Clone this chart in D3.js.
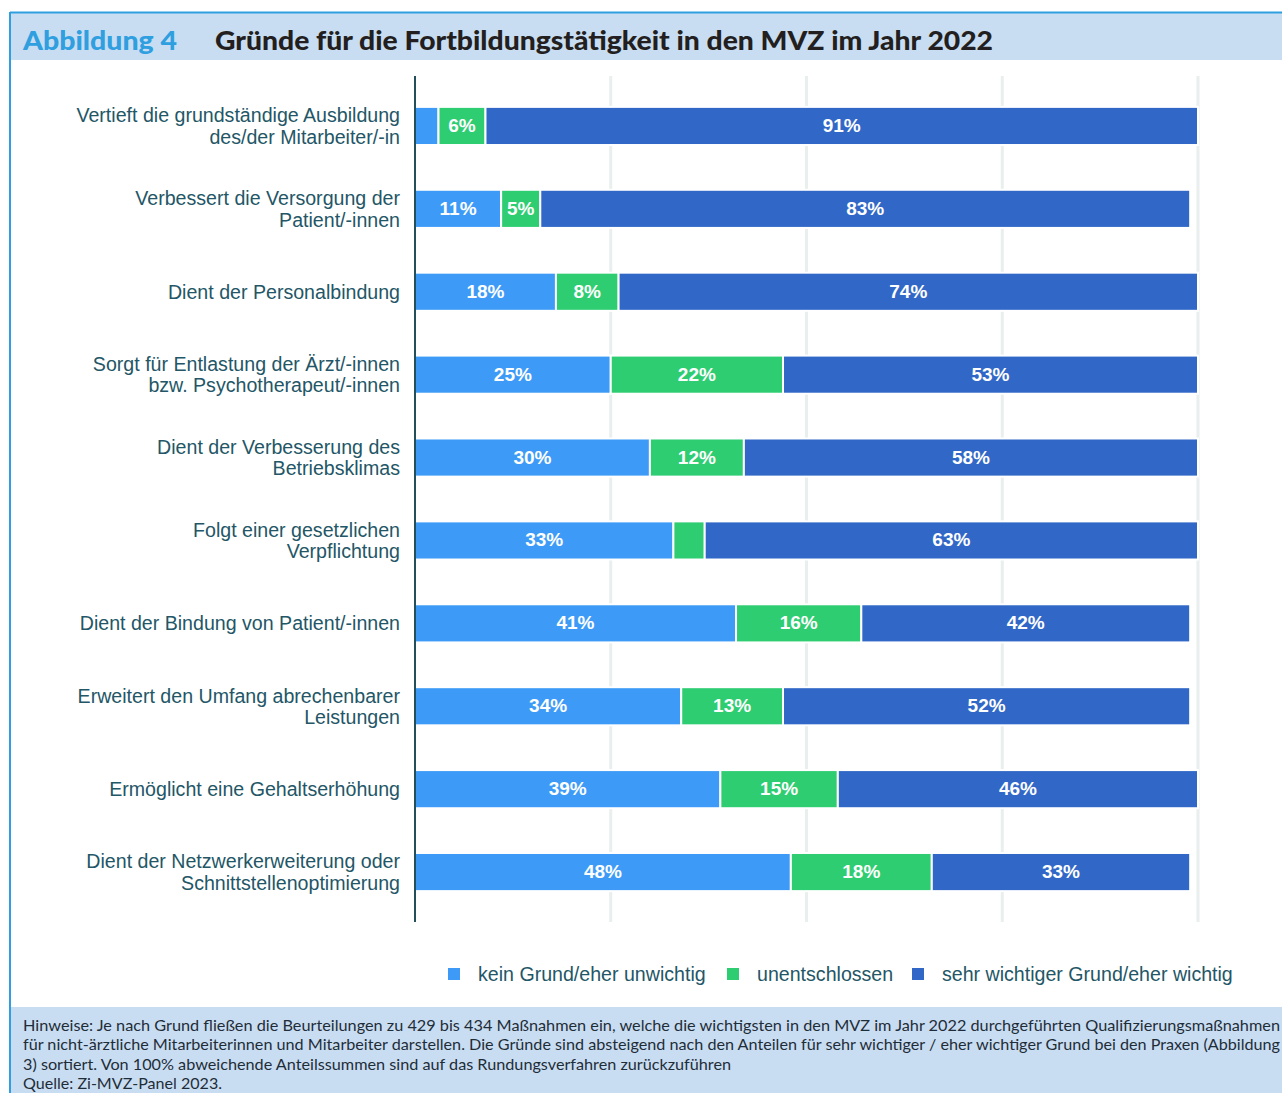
<!DOCTYPE html>
<html><head><meta charset="utf-8">
<script src="https://cdn.jsdelivr.net/npm/d3@7"></script>
<style>html,body{margin:0;padding:0;background:#fff;}svg{display:block;}</style>
</head><body>
<svg id="c" width="1282" height="1093"></svg>
<script>
const categories = [
  "Vertieft die grundständige Ausbildung\ndes/der Mitarbeiter/-in",
  "Verbessert die Versorgung der\nPatient/-innen",
  "Dient der Personalbindung",
  "Sorgt für Entlastung der Ärzt/-innen\nbzw. Psychotherapeut/-innen",
  "Dient der Verbesserung des\nBetriebsklimas",
  "Folgt einer gesetzlichen\nVerpflichtung",
  "Dient der Bindung von Patient/-innen",
  "Erweitert den Umfang abrechenbarer\nLeistungen",
  "Ermöglicht eine Gehaltserhöhung",
  "Dient der Netzwerkerweiterung oder\nSchnittstellenoptimierung"
];
const keinGrund = [3, 11, 18, 25, 30, 33, 41, 34, 39, 48];
const unentschlossen = [6, 5, 8, 22, 12, 4, 16, 13, 15, 18];
const sehrWichtig = [91, 83, 74, 53, 58, 63, 42, 52, 46, 33];
const seriesNames = ["kein Grund/eher unwichtig", "unentschlossen", "sehr wichtiger Grund/eher wichtig"];
const xTicks = [0, 25, 50, 75, 100];
const titleLabel = "Abbildung 4";
const titleText = "Gründe für die Fortbildungstätigkeit in den MVZ im Jahr 2022";
const noteLines = [
  "Hinweise: Je nach Grund fließen die Beurteilungen zu 429 bis 434 Maßnahmen ein, welche die wichtigsten in den MVZ im Jahr 2022 durchgeführten Qualifizierungsmaßnahmen",
  "für nicht-ärztliche Mitarbeiterinnen und Mitarbeiter darstellen. Die Gründe sind absteigend nach den Anteilen für sehr wichtiger / eher wichtiger Grund bei den Praxen (Abbildung",
  "3) sortiert. Von 100% abweichende Anteilssummen sind auf das Rundungsverfahren zurückzuführen",
  "Quelle: Zi-MVZ-Panel 2023."
];

const colors = ["#3d9bf7", "#2ecd72", "#3168c7"];
const svg = d3.select("#c");

// frame
svg.append("rect").attr("x", 10).attr("y", 13).attr("width", 1272).attr("height", 47).attr("fill", "#c9ddf2");
svg.append("rect").attr("x", 10).attr("y", 1007).attr("width", 1272).attr("height", 86).attr("fill", "#c9ddf2");
svg.append("line").attr("x1", 10).attr("x2", 1282).attr("y1", 12.5).attr("y2", 12.5).attr("stroke", "#2f9fe0").attr("stroke-width", 2);
svg.append("line").attr("x1", 10).attr("x2", 10).attr("y1", 12).attr("y2", 1093).attr("stroke", "#2f9fe0").attr("stroke-width", 2);

svg.append("text").attr("x", 23).attr("y", 50).attr("font-family", "Lato, sans-serif").attr("font-weight", 900)
  .attr("font-size", 27).attr("fill", "#2f9fe0").attr("textLength", 154).attr("lengthAdjust", "spacingAndGlyphs").text(titleLabel);
svg.append("text").attr("x", 215).attr("y", 50).attr("font-family", "Lato, sans-serif").attr("font-weight", 900)
  .attr("font-size", 27).attr("fill", "#231f20").attr("textLength", 778).attr("lengthAdjust", "spacingAndGlyphs").text(titleText);

const x = d3.scaleLinear().domain([0, 100]).range([415, 1198]);
const y = d3.scaleBand().domain(d3.range(categories.length)).range([84.5, 913.5]).paddingInner(0.54).paddingOuter(0.27);

// grid
svg.append("g").selectAll("line").data(xTicks.slice(1)).join("line")
  .attr("x1", d => x(d)).attr("x2", d => x(d)).attr("y1", 76).attr("y2", 922)
  .attr("stroke", "#e9eeee").attr("stroke-width", 3);

const rows = categories.map((c, i) => {
  const vals = [keinGrund[i], unentschlossen[i], sehrWichtig[i]];
  let acc = 0;
  return vals.map((v, k) => { const s = {i, k, v, x0: acc, x1: acc + v}; acc += v; return s; });
}).flat();

svg.append("g").selectAll("rect").data(rows).join("rect")
  .attr("x", d => x(d.x0)).attr("width", d => x(d.x1) - x(d.x0))
  .attr("y", d => y(d.i)).attr("height", y.bandwidth())
  .attr("fill", d => colors[d.k]).attr("stroke", "#fff").attr("stroke-width", 2);

svg.append("g").selectAll("text").data(rows.filter(d => d.v >= 5)).join("text")
  .attr("x", d => (x(d.x0) + x(d.x1)) / 2).attr("y", d => y(d.i) + y.bandwidth() / 2 + 6)
  .attr("text-anchor", "middle").attr("font-family", "Liberation Sans, Arial, sans-serif")
  .attr("font-weight", 700).attr("font-size", 19).attr("fill", "#fff").text(d => d.v + "%");

// axis line
svg.append("line").attr("x1", 415).attr("x2", 415).attr("y1", 76).attr("y2", 922)
  .attr("stroke", "#234e5c").attr("stroke-width", 2);

// y labels
const yl = svg.append("g").attr("font-family", "Liberation Sans, Arial, sans-serif").attr("font-size", 19.6).attr("fill", "#235666");
categories.forEach((c, i) => {
  const lines = c.split("\n");
  const cy = y(i) + y.bandwidth() / 2;
  const t = yl.append("text").attr("text-anchor", "end");
  lines.forEach((ln, j) => {
    t.append("tspan").attr("x", 400).attr("y", cy + 7 + (j - (lines.length - 1) / 2) * 21.5).text(ln);
  });
});

// legend
const legX = [448, 727, 912];
const lg = svg.append("g").attr("font-family", "Liberation Sans, Arial, sans-serif").attr("font-size", 19.6).attr("fill", "#235666");
seriesNames.forEach((n, k) => {
  lg.append("rect").attr("x", legX[k]).attr("y", 968).attr("width", 12).attr("height", 12).attr("fill", colors[k]);
  lg.append("text").attr("x", legX[k] + 30).attr("y", 981).text(n);
});

// notes
const ng = svg.append("g").attr("font-family", "Lato, sans-serif").attr("font-size", 15).attr("fill", "#1f2d38");
const noteY = [1031, 1050, 1070, 1089];
const noteW = [1257, 1257, 708, 199];
noteLines.forEach((ln, j) => {
  ng.append("text").attr("x", 23).attr("y", noteY[j]).attr("textLength", noteW[j]).attr("lengthAdjust", "spacingAndGlyphs").text(ln);
});
</script>
</body></html>
